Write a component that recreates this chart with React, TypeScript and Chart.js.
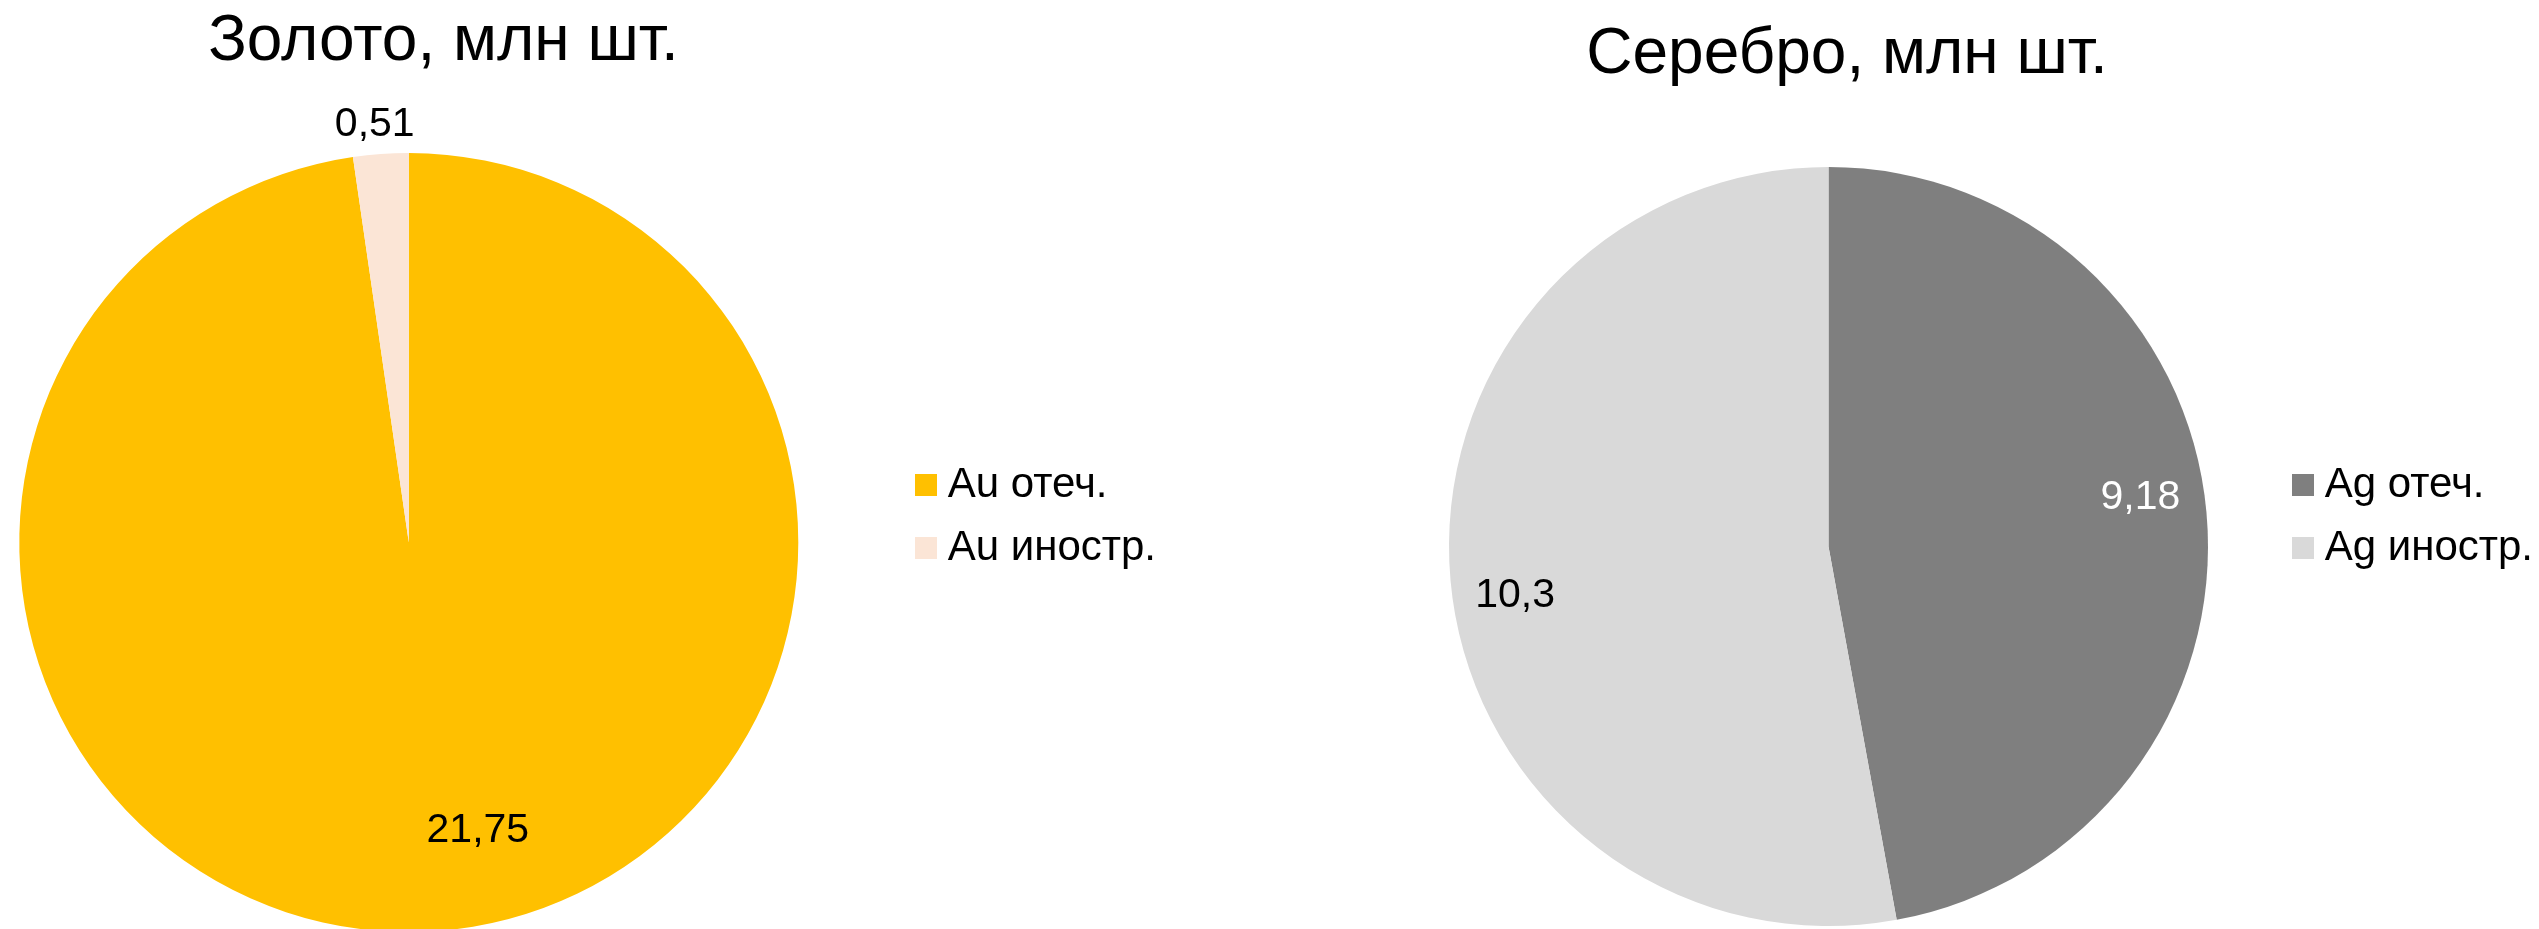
import React, { useEffect, useRef } from 'react';
import { Chart, registerables } from 'chart.js';

Chart.register(...registerables);

// ---- data ----
const goldTitle = 'Золото, млн шт.';
const goldLabels = ['Au отеч.', 'Au иностр.'];
const goldValues = [21.75, 0.51];
const goldColors = ['#FFC000', '#FBE5D6'];

const silverTitle = 'Серебро, млн шт.';
const silverLabels = ['Ag отеч.', 'Ag иностр.'];
const silverValues = [9.18, 10.3];
const silverColors = ['#7F7F7F', '#D9D9D9'];

// ---- style / layout ----
const FONT = "'Liberation Sans', Arial, Helvetica, sans-serif";
const LABEL_FONT = 41;
const LEGEND_FONT = 42;
const LEGEND_PAD = 21;
const SWATCH = 22;
const CANVAS_H = 1033;

// target page positions: title centre x, pie centre x, legend text start x
const goldLayout = {
  titleX: 443.5,
  pieX: 408.8,
  legendTextX: 948,
  titlePad: { top: 38.8, bottom: 5.2 },
  radius: 389.5,
  labelColors: ['#000000', '#000000'],
  labelAngle: [-9.35, -0.53],
  labelRadius: [0.761, 1.077],
};

const silverLayout = {
  titleX: 1847,
  pieX: 1828.5,
  legendTextX: 2325,
  titlePad: { top: 51.8, bottom: 0.2 },
  radius: 379.5,
  labelColors: ['#FFFFFF', '#000000'],
  labelAngle: [-3.76, -3.83],
  labelRadius: [0.832, 0.836],
};

const fmt = (v: number) => String(v).replace('.', ',');

function makeSwatch(color: string, size: number) {
  const c = document.createElement('canvas');
  c.width = size;
  c.height = size;
  const g = c.getContext('2d');
  if (g) {
    g.fillStyle = color;
    g.fillRect(0, 0, size, size);
  }
  return c;
}

type Layout = typeof goldLayout;

function PiePanel(props: {
  title: string;
  labels: string[];
  values: number[];
  colors: string[];
  layout: Layout;
}) {
  const { title, labels, values, colors, layout } = props;
  const ref = useRef<HTMLCanvasElement>(null);

  useEffect(() => {
    const canvas = ref.current;
    if (!canvas) return;
    const swatches = colors.map((c) => makeSwatch(c, SWATCH));

    // measure legend width exactly as Chart.js does
    const mctx = document.createElement('canvas').getContext('2d') as CanvasRenderingContext2D;
    mctx.font = `${LEGEND_FONT}px ${FONT}`;
    const tw = Math.max(...labels.map((t) => mctx.measureText(t).width));
    const boxW = 1;
    const legendW = LEGEND_PAD + boxW + LEGEND_FONT / 2 + tw + 10;

    const A = layout.legendTextX - (LEGEND_PAD + boxW + LEGEND_FONT / 2); // legend.left (page)
    const oRaw = 2 * layout.titleX - A - legendW;
    const o = Math.round(oRaw);
    const X = 2 * (layout.titleX - o);
    const legendLeft = o + X - legendW;
    const spacer = Math.max(2 * layout.pieX - legendLeft - o, 1);
    const W = Math.ceil(X) + 2;
    const padR = W - X;

    canvas.width = W;
    canvas.height = CANVAS_H;
    canvas.style.position = 'absolute';
    canvas.style.left = `${o}px`;
    canvas.style.top = '0px';
    canvas.style.width = `${W}px`;
    canvas.style.height = `${CANVAS_H}px`;

    const valueLabels = {
      id: 'valueLabels',
      afterDatasetsDraw(chart: any) {
        const meta = chart.getDatasetMeta(0);
        const data = chart.data.datasets[0].data as number[];
        const ctx = chart.ctx as CanvasRenderingContext2D;
        ctx.save();
        ctx.font = `${LABEL_FONT}px ${FONT}`;
        ctx.textAlign = 'center';
        ctx.textBaseline = 'middle';
        meta.data.forEach((arc: any, i: number) => {
          const p = arc.getProps(['x', 'y', 'startAngle', 'endAngle', 'outerRadius'], true);
          const a = (p.startAngle + p.endAngle) / 2 + (layout.labelAngle[i] * Math.PI) / 180;
          const r = p.outerRadius * layout.labelRadius[i];
          ctx.fillStyle = layout.labelColors[i];
          ctx.fillText(fmt(data[i]), p.x + Math.cos(a) * r, p.y + Math.sin(a) * r);
        });
        ctx.restore();
      },
    };

    const chart = new Chart(canvas, {
      type: 'pie',
      data: {
        labels,
        datasets: [
          {
            data: values,
            backgroundColor: colors,
            borderWidth: 0,
            hoverOffset: 0,
            offset: 0,
            radius: layout.radius,
          } as any,
        ],
      },
      options: {
        animation: false,
        responsive: false,
        maintainAspectRatio: false,
        events: [],
        layout: { padding: { left: 0, top: 0, right: padR, bottom: 0 } },
        plugins: {
          tooltip: { enabled: false },
          title: {
            display: true,
            text: title,
            color: '#000000',
            align: 'center',
            fullSize: true,
            font: { size: 64, family: FONT, weight: 'normal', lineHeight: 0.125 },
            padding: layout.titlePad,
          },
          subtitle: {
            display: true,
            text: ' ',
            position: 'left',
            fullSize: false,
            color: 'rgba(0,0,0,0)',
            font: { size: 1, family: FONT, lineHeight: 1 },
            padding: { top: spacer - 1, bottom: 0 },
          },
          legend: {
            display: true,
            position: 'right',
            fullSize: true,
            labels: {
              color: '#000000',
              font: { size: LEGEND_FONT, family: FONT },
              padding: LEGEND_PAD,
              usePointStyle: true,
              pointStyleWidth: boxW,
              boxHeight: SWATCH,
              textAlign: 'left',
              generateLabels: (ch: any) =>
                (ch.data.labels as string[]).map((text, i) => ({
                  text,
                  fillStyle: colors[i],
                  strokeStyle: colors[i],
                  lineWidth: 0,
                  hidden: false,
                  index: i,
                  pointStyle: swatches[i],
                  fontColor: '#000000',
                  textAlign: 'left',
                })),
            },
          },
        } as any,
      },
      plugins: [valueLabels as any],
    });
    return () => chart.destroy();
  }, []);

  return <canvas ref={ref} style={{ position: 'absolute', left: 0, top: 0 }} />;
}

export default function App() {
  return (
    <div
      style={{
        position: 'fixed',
        left: 0,
        top: 0,
        width: 2539,
        height: 929,
        overflow: 'hidden',
        background: '#ffffff',
      }}
    >
      <PiePanel title={goldTitle} labels={goldLabels} values={goldValues} colors={goldColors} layout={goldLayout} />
      <PiePanel title={silverTitle} labels={silverLabels} values={silverValues} colors={silverColors} layout={silverLayout} />
    </div>
  );
}
